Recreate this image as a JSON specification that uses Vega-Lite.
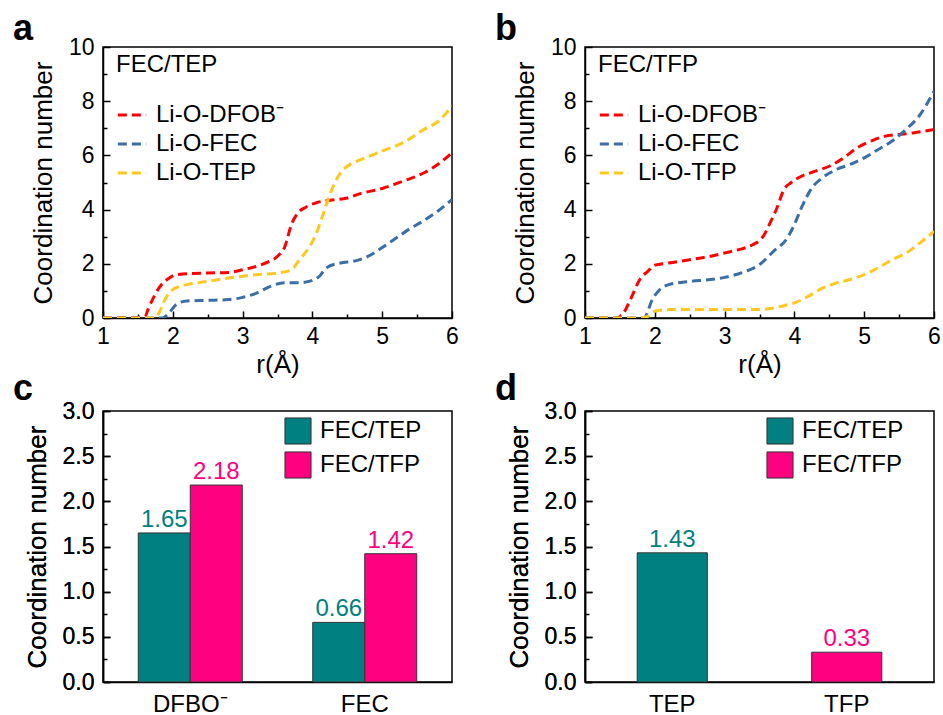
{
  "$schema": "https://vega.github.io/schema/vega-lite/v6.json",
  "background": "white",
  "padding": {"left": 12, "top": 10, "right": 8, "bottom": 4},
  "datasets": {
    "a": [
      {"r": 1.0, "cn": 0, "s": "Li-O-DFOB⁻"}, {"r": 1.5, "cn": 0.02, "s": "Li-O-DFOB⁻"}, {"r": 1.6, "cn": 0.05, "s": "Li-O-DFOB⁻"},
      {"r": 1.65, "cn": 0.35, "s": "Li-O-DFOB⁻"}, {"r": 1.8, "cn": 1.1, "s": "Li-O-DFOB⁻"}, {"r": 1.95, "cn": 1.48, "s": "Li-O-DFOB⁻"},
      {"r": 2.05, "cn": 1.6, "s": "Li-O-DFOB⁻"}, {"r": 2.5, "cn": 1.66, "s": "Li-O-DFOB⁻"}, {"r": 2.8, "cn": 1.68, "s": "Li-O-DFOB⁻"},
      {"r": 3.0, "cn": 1.78, "s": "Li-O-DFOB⁻"}, {"r": 3.3, "cn": 2.0, "s": "Li-O-DFOB⁻"}, {"r": 3.5, "cn": 2.28, "s": "Li-O-DFOB⁻"},
      {"r": 3.6, "cn": 2.6, "s": "Li-O-DFOB⁻"}, {"r": 3.7, "cn": 3.45, "s": "Li-O-DFOB⁻"}, {"r": 3.8, "cn": 3.9, "s": "Li-O-DFOB⁻"},
      {"r": 3.9, "cn": 4.08, "s": "Li-O-DFOB⁻"}, {"r": 4.05, "cn": 4.25, "s": "Li-O-DFOB⁻"}, {"r": 4.2, "cn": 4.33, "s": "Li-O-DFOB⁻"},
      {"r": 4.5, "cn": 4.43, "s": "Li-O-DFOB⁻"}, {"r": 4.7, "cn": 4.6, "s": "Li-O-DFOB⁻"}, {"r": 5.0, "cn": 4.78, "s": "Li-O-DFOB⁻"},
      {"r": 5.3, "cn": 5.05, "s": "Li-O-DFOB⁻"}, {"r": 5.6, "cn": 5.36, "s": "Li-O-DFOB⁻"}, {"r": 5.8, "cn": 5.67, "s": "Li-O-DFOB⁻"},
      {"r": 6.0, "cn": 6.1, "s": "Li-O-DFOB⁻"},
      {"r": 1.0, "cn": 0, "s": "Li-O-FEC"}, {"r": 1.85, "cn": 0, "s": "Li-O-FEC"}, {"r": 1.95, "cn": 0.2, "s": "Li-O-FEC"},
      {"r": 2.05, "cn": 0.5, "s": "Li-O-FEC"}, {"r": 2.2, "cn": 0.63, "s": "Li-O-FEC"}, {"r": 2.5, "cn": 0.65, "s": "Li-O-FEC"},
      {"r": 2.8, "cn": 0.68, "s": "Li-O-FEC"}, {"r": 3.0, "cn": 0.76, "s": "Li-O-FEC"}, {"r": 3.2, "cn": 0.92, "s": "Li-O-FEC"},
      {"r": 3.4, "cn": 1.17, "s": "Li-O-FEC"}, {"r": 3.6, "cn": 1.3, "s": "Li-O-FEC"}, {"r": 3.8, "cn": 1.3, "s": "Li-O-FEC"},
      {"r": 3.95, "cn": 1.35, "s": "Li-O-FEC"}, {"r": 4.1, "cn": 1.54, "s": "Li-O-FEC"}, {"r": 4.2, "cn": 1.85, "s": "Li-O-FEC"},
      {"r": 4.4, "cn": 2.03, "s": "Li-O-FEC"}, {"r": 4.6, "cn": 2.1, "s": "Li-O-FEC"}, {"r": 4.8, "cn": 2.28, "s": "Li-O-FEC"},
      {"r": 5.0, "cn": 2.6, "s": "Li-O-FEC"}, {"r": 5.2, "cn": 2.95, "s": "Li-O-FEC"}, {"r": 5.4, "cn": 3.3, "s": "Li-O-FEC"},
      {"r": 5.6, "cn": 3.6, "s": "Li-O-FEC"}, {"r": 5.8, "cn": 3.95, "s": "Li-O-FEC"}, {"r": 6.0, "cn": 4.37, "s": "Li-O-FEC"},
      {"r": 1.0, "cn": 0, "s": "Li-O-TEP"}, {"r": 1.75, "cn": 0, "s": "Li-O-TEP"}, {"r": 1.8, "cn": 0.18, "s": "Li-O-TEP"},
      {"r": 1.9, "cn": 0.74, "s": "Li-O-TEP"}, {"r": 2.0, "cn": 1.05, "s": "Li-O-TEP"}, {"r": 2.2, "cn": 1.23, "s": "Li-O-TEP"},
      {"r": 2.5, "cn": 1.35, "s": "Li-O-TEP"}, {"r": 2.8, "cn": 1.48, "s": "Li-O-TEP"}, {"r": 3.0, "cn": 1.54, "s": "Li-O-TEP"},
      {"r": 3.2, "cn": 1.6, "s": "Li-O-TEP"}, {"r": 3.5, "cn": 1.66, "s": "Li-O-TEP"}, {"r": 3.7, "cn": 1.78, "s": "Li-O-TEP"},
      {"r": 3.8, "cn": 2.1, "s": "Li-O-TEP"}, {"r": 3.95, "cn": 2.6, "s": "Li-O-TEP"}, {"r": 4.05, "cn": 3.08, "s": "Li-O-TEP"},
      {"r": 4.15, "cn": 3.8, "s": "Li-O-TEP"}, {"r": 4.25, "cn": 4.55, "s": "Li-O-TEP"}, {"r": 4.4, "cn": 5.35, "s": "Li-O-TEP"},
      {"r": 4.5, "cn": 5.6, "s": "Li-O-TEP"}, {"r": 4.7, "cn": 5.85, "s": "Li-O-TEP"}, {"r": 5.0, "cn": 6.16, "s": "Li-O-TEP"},
      {"r": 5.3, "cn": 6.47, "s": "Li-O-TEP"}, {"r": 5.6, "cn": 6.96, "s": "Li-O-TEP"}, {"r": 5.8, "cn": 7.25, "s": "Li-O-TEP"},
      {"r": 6.0, "cn": 7.82, "s": "Li-O-TEP"}
    ],
    "b": [
      {"r": 1.0, "cn": 0, "s": "Li-O-DFOB⁻"}, {"r": 1.45, "cn": 0, "s": "Li-O-DFOB⁻"}, {"r": 1.55, "cn": 0.18, "s": "Li-O-DFOB⁻"},
      {"r": 1.65, "cn": 0.68, "s": "Li-O-DFOB⁻"}, {"r": 1.8, "cn": 1.48, "s": "Li-O-DFOB⁻"}, {"r": 1.9, "cn": 1.72, "s": "Li-O-DFOB⁻"},
      {"r": 2.0, "cn": 1.95, "s": "Li-O-DFOB⁻"}, {"r": 2.2, "cn": 2.03, "s": "Li-O-DFOB⁻"}, {"r": 2.5, "cn": 2.15, "s": "Li-O-DFOB⁻"},
      {"r": 2.8, "cn": 2.28, "s": "Li-O-DFOB⁻"}, {"r": 3.0, "cn": 2.4, "s": "Li-O-DFOB⁻"}, {"r": 3.2, "cn": 2.52, "s": "Li-O-DFOB⁻"},
      {"r": 3.4, "cn": 2.7, "s": "Li-O-DFOB⁻"}, {"r": 3.55, "cn": 3.0, "s": "Li-O-DFOB⁻"}, {"r": 3.65, "cn": 3.5, "s": "Li-O-DFOB⁻"},
      {"r": 3.75, "cn": 4.06, "s": "Li-O-DFOB⁻"}, {"r": 3.85, "cn": 4.74, "s": "Li-O-DFOB⁻"}, {"r": 3.95, "cn": 4.99, "s": "Li-O-DFOB⁻"},
      {"r": 4.1, "cn": 5.23, "s": "Li-O-DFOB⁻"}, {"r": 4.3, "cn": 5.42, "s": "Li-O-DFOB⁻"}, {"r": 4.5, "cn": 5.6, "s": "Li-O-DFOB⁻"},
      {"r": 4.7, "cn": 5.9, "s": "Li-O-DFOB⁻"}, {"r": 4.9, "cn": 6.28, "s": "Li-O-DFOB⁻"}, {"r": 5.1, "cn": 6.53, "s": "Li-O-DFOB⁻"},
      {"r": 5.3, "cn": 6.71, "s": "Li-O-DFOB⁻"}, {"r": 5.5, "cn": 6.77, "s": "Li-O-DFOB⁻"}, {"r": 5.7, "cn": 6.83, "s": "Li-O-DFOB⁻"},
      {"r": 6.0, "cn": 6.96, "s": "Li-O-DFOB⁻"},
      {"r": 1.0, "cn": 0, "s": "Li-O-FEC"}, {"r": 1.85, "cn": 0, "s": "Li-O-FEC"}, {"r": 1.9, "cn": 0.25, "s": "Li-O-FEC"},
      {"r": 1.95, "cn": 0.6, "s": "Li-O-FEC"}, {"r": 2.05, "cn": 0.99, "s": "Li-O-FEC"}, {"r": 2.2, "cn": 1.23, "s": "Li-O-FEC"},
      {"r": 2.5, "cn": 1.35, "s": "Li-O-FEC"}, {"r": 2.8, "cn": 1.42, "s": "Li-O-FEC"}, {"r": 3.0, "cn": 1.5, "s": "Li-O-FEC"},
      {"r": 3.3, "cn": 1.72, "s": "Li-O-FEC"}, {"r": 3.5, "cn": 1.97, "s": "Li-O-FEC"}, {"r": 3.7, "cn": 2.46, "s": "Li-O-FEC"},
      {"r": 3.9, "cn": 2.96, "s": "Li-O-FEC"}, {"r": 4.0, "cn": 3.45, "s": "Li-O-FEC"}, {"r": 4.1, "cn": 4.06, "s": "Li-O-FEC"},
      {"r": 4.25, "cn": 4.8, "s": "Li-O-FEC"}, {"r": 4.4, "cn": 5.17, "s": "Li-O-FEC"}, {"r": 4.6, "cn": 5.48, "s": "Li-O-FEC"},
      {"r": 4.8, "cn": 5.67, "s": "Li-O-FEC"}, {"r": 5.0, "cn": 5.91, "s": "Li-O-FEC"}, {"r": 5.2, "cn": 6.22, "s": "Li-O-FEC"},
      {"r": 5.4, "cn": 6.53, "s": "Li-O-FEC"}, {"r": 5.6, "cn": 6.96, "s": "Li-O-FEC"}, {"r": 5.8, "cn": 7.5, "s": "Li-O-FEC"},
      {"r": 6.0, "cn": 8.37, "s": "Li-O-FEC"},
      {"r": 1.0, "cn": 0, "s": "Li-O-TFP"}, {"r": 1.8, "cn": 0, "s": "Li-O-TFP"}, {"r": 1.9, "cn": 0.06, "s": "Li-O-TFP"},
      {"r": 2.0, "cn": 0.25, "s": "Li-O-TFP"}, {"r": 2.2, "cn": 0.31, "s": "Li-O-TFP"}, {"r": 2.5, "cn": 0.31, "s": "Li-O-TFP"},
      {"r": 3.0, "cn": 0.31, "s": "Li-O-TFP"}, {"r": 3.5, "cn": 0.31, "s": "Li-O-TFP"}, {"r": 3.7, "cn": 0.37, "s": "Li-O-TFP"},
      {"r": 3.9, "cn": 0.49, "s": "Li-O-TFP"}, {"r": 4.0, "cn": 0.56, "s": "Li-O-TFP"}, {"r": 4.2, "cn": 0.8, "s": "Li-O-TFP"},
      {"r": 4.4, "cn": 1.1, "s": "Li-O-TFP"}, {"r": 4.6, "cn": 1.29, "s": "Li-O-TFP"}, {"r": 4.8, "cn": 1.42, "s": "Li-O-TFP"},
      {"r": 5.0, "cn": 1.6, "s": "Li-O-TFP"}, {"r": 5.2, "cn": 1.85, "s": "Li-O-TFP"}, {"r": 5.4, "cn": 2.15, "s": "Li-O-TFP"},
      {"r": 5.6, "cn": 2.4, "s": "Li-O-TFP"}, {"r": 5.8, "cn": 2.77, "s": "Li-O-TFP"}, {"r": 6.0, "cn": 3.2, "s": "Li-O-TFP"}
    ],
    "c": [
      {"cat": "DFBO⁻", "sys": "FEC/TEP", "v": 1.65}, {"cat": "DFBO⁻", "sys": "FEC/TFP", "v": 2.18},
      {"cat": "FEC", "sys": "FEC/TEP", "v": 0.66}, {"cat": "FEC", "sys": "FEC/TFP", "v": 1.42}
    ],
    "d": [
      {"cat": "TEP", "sys": "FEC/TEP", "v": 1.43}, {"cat": "TFP", "sys": "FEC/TFP", "v": 0.33}
    ]
  },
  "config": {
    "font": "Liberation Sans",
    "view": {"stroke": "black", "strokeWidth": 1.5},
    "axis": {
      "domainColor": "black", "domainWidth": 1.5, "tickColor": "black", "tickWidth": 1.5,
      "labelColor": "black", "labelFontSize": 23, "labelFont": "Liberation Sans",
      "titleColor": "black", "titleFontSize": 26, "titleFont": "Liberation Sans", "titleFontWeight": "normal",
      "grid": false
    },
    "legend": {"labelFont": "Liberation Sans", "titleFont": "Liberation Sans", "labelColor": "black", "titleColor": "black"},
    "title": {"font": "Liberation Sans", "fontSize": 36, "fontWeight": "bold", "color": "black", "anchor": "start", "frame": "group", "dx": -90}
  },
  "concat": [
    {
      "width": 349, "height": 271,
      "title": {"text": "a", "offset": -12},
      "data": {"name": "a"},
      "layer": [
        {
          "mark": {"type": "line", "strokeWidth": 3, "strokeDash": [9, 5], "interpolate": "monotone", "clip": true},
          "encoding": {
            "x": {"field": "r", "type": "quantitative", "scale": {"domain": [1, 6], "nice": false},
              "axis": {"orient": "bottom", "values": [1, 2, 3, 4, 5, 6], "title": "r(Å)", "tickSize": -7, "labelPadding": 14, "titlePadding": 3, "labelFlush": false}},
            "y": {"field": "cn", "type": "quantitative", "scale": {"domain": [0, 10], "nice": false},
              "axis": {"orient": "left", "values": [0, 2, 4, 6, 8, 10], "title": "Coordination number", "tickSize": -7, "labelPadding": 16, "titlePadding": 12, "labelFlush": false}},
            "color": {"field": "s", "type": "nominal",
              "scale": {"domain": ["Li-O-DFOB⁻", "Li-O-FEC", "Li-O-TEP"], "range": ["#FF0000", "#3A6EA8", "#FFC81E"]},
              "legend": {"title": "FEC/TEP", "orient": "none", "legendX": 13, "legendY": 6, "titleFontSize": 24, "titleFontWeight": "normal", "titlePadding": 22,
                "labelFontSize": 24, "symbolType": "stroke", "symbolDash": [9, 5], "symbolStrokeWidth": 3, "symbolSize": 800,
                "rowPadding": 1, "labelOffset": 8, "padding": 0}}
          }
        },
        {
          "mark": {"type": "line", "opacity": 0},
          "encoding": {
            "x": {"field": "r", "type": "quantitative", "axis": {"orient": "bottom", "values": [1.5, 2.5, 3.5, 4.5, 5.5], "labels": false, "title": null, "tickSize": -4, "domain": false}},
            "y": {"field": "cn", "type": "quantitative", "axis": {"orient": "left", "values": [1, 3, 5, 7, 9], "labels": false, "title": null, "tickSize": -4, "domain": false}}
          }
        }
      ],
      "resolve": {"axis": {"x": "independent", "y": "independent"}}
    },
    {
      "width": 349, "height": 271,
      "title": {"text": "b", "offset": -12},
      "data": {"name": "b"},
      "layer": [
        {
          "mark": {"type": "line", "strokeWidth": 3, "strokeDash": [9, 5], "interpolate": "monotone", "clip": true},
          "encoding": {
            "x": {"field": "r", "type": "quantitative", "scale": {"domain": [1, 6], "nice": false},
              "axis": {"orient": "bottom", "values": [1, 2, 3, 4, 5, 6], "title": "r(Å)", "tickSize": -7, "labelPadding": 14, "titlePadding": 3, "labelFlush": false}},
            "y": {"field": "cn", "type": "quantitative", "scale": {"domain": [0, 10], "nice": false},
              "axis": {"orient": "left", "values": [0, 2, 4, 6, 8, 10], "title": "Coordination number", "tickSize": -7, "labelPadding": 16, "titlePadding": 12, "labelFlush": false}},
            "color": {"field": "s", "type": "nominal",
              "scale": {"domain": ["Li-O-DFOB⁻", "Li-O-FEC", "Li-O-TFP"], "range": ["#FF0000", "#3A6EA8", "#FFC81E"]},
              "legend": {"title": "FEC/TFP", "orient": "none", "legendX": 13, "legendY": 6, "titleFontSize": 24, "titleFontWeight": "normal", "titlePadding": 22,
                "labelFontSize": 24, "symbolType": "stroke", "symbolDash": [9, 5], "symbolStrokeWidth": 3, "symbolSize": 800,
                "rowPadding": 1, "labelOffset": 8, "padding": 0}}
          }
        },
        {
          "mark": {"type": "line", "opacity": 0},
          "encoding": {
            "x": {"field": "r", "type": "quantitative", "axis": {"orient": "bottom", "values": [1.5, 2.5, 3.5, 4.5, 5.5], "labels": false, "title": null, "tickSize": -4, "domain": false}},
            "y": {"field": "cn", "type": "quantitative", "axis": {"orient": "left", "values": [1, 3, 5, 7, 9], "labels": false, "title": null, "tickSize": -4, "domain": false}}
          }
        }
      ],
      "resolve": {"axis": {"x": "independent", "y": "independent"}}
    },
    {
      "width": 349, "height": 271,
      "title": {"text": "c", "offset": -8},
      "data": {"name": "c"},
      "encoding": {
        "x": {"field": "cat", "type": "nominal", "sort": null,
          "scale": {"paddingInner": 0.404, "paddingOuter": 0.202},
          "axis": {"title": null, "labelAngle": 0, "labelFontSize": 24, "ticks": false, "labelPadding": 10}},
        "xOffset": {"field": "sys", "type": "nominal", "scale": {"paddingInner": 0, "paddingOuter": 0}}
      },
      "layer": [
        {
          "mark": {"type": "bar", "stroke": "#333333", "strokeWidth": 1},
          "encoding": {
            "y": {"field": "v", "type": "quantitative", "scale": {"domain": [0, 3], "nice": false},
              "axis": {"orient": "left", "values": [0, 0.5, 1, 1.5, 2, 2.5, 3], "format": ".1f", "title": "Coordination number", "tickSize": -7, "labelPadding": 16, "titlePadding": 12, "labelFlush": false}},
            "color": {"field": "sys", "type": "nominal",
              "scale": {"domain": ["FEC/TEP", "FEC/TFP"], "range": ["#008080", "#FF0080"]},
              "legend": {"title": null, "orient": "none", "legendX": 181, "legendY": 6, "labelFontSize": 24, "symbolType": "square", "symbolSize": 680,
                "symbolStrokeColor": "#333333", "symbolStrokeWidth": 1, "rowPadding": 2, "labelOffset": 8, "padding": 0, "symbolOpacity": 1}}
          }
        },
        {
          "mark": {"type": "text", "baseline": "alphabetic", "dy": -6, "fontSize": 24},
          "encoding": {
            "y": {"field": "v", "type": "quantitative", "axis": {"orient": "left", "values": [0, 0.5, 1, 1.5, 2, 2.5, 3], "format": ".1f", "title": "Coordination number", "tickSize": -7, "labelPadding": 16, "titlePadding": 12, "labelFlush": false}},
            "text": {"field": "v", "type": "quantitative", "format": ".2f"},
            "color": {"field": "sys", "type": "nominal", "scale": {"domain": ["FEC/TEP", "FEC/TFP"], "range": ["#008080", "#FF0080"]}, "legend": null}
          }
        },
        {
          "mark": {"type": "bar", "opacity": 0},
          "encoding": {
            "y": {"field": "v", "type": "quantitative", "axis": {"orient": "left", "values": [0.25, 0.75, 1.25, 1.75, 2.25, 2.75], "labels": false, "title": null, "tickSize": -4, "domain": false}}
          }
        }
      ],
      "resolve": {"axis": {"y": "independent"}}
    },
    {
      "width": 349, "height": 271,
      "title": {"text": "d", "offset": -8},
      "data": {"name": "d"},
      "encoding": {
        "x": {"field": "cat", "type": "nominal", "sort": null,
          "scale": {"paddingInner": 0.598, "paddingOuter": 0.299},
          "axis": {"title": null, "labelAngle": 0, "labelFontSize": 24, "ticks": false, "labelPadding": 10}}
      },
      "layer": [
        {
          "mark": {"type": "bar", "stroke": "#333333", "strokeWidth": 1},
          "encoding": {
            "y": {"field": "v", "type": "quantitative", "scale": {"domain": [0, 3], "nice": false},
              "axis": {"orient": "left", "values": [0, 0.5, 1, 1.5, 2, 2.5, 3], "format": ".1f", "title": "Coordination number", "tickSize": -7, "labelPadding": 16, "titlePadding": 12, "labelFlush": false}},
            "color": {"field": "sys", "type": "nominal",
              "scale": {"domain": ["FEC/TEP", "FEC/TFP"], "range": ["#008080", "#FF0080"]},
              "legend": {"title": null, "orient": "none", "legendX": 181, "legendY": 6, "labelFontSize": 24, "symbolType": "square", "symbolSize": 680,
                "symbolStrokeColor": "#333333", "symbolStrokeWidth": 1, "rowPadding": 2, "labelOffset": 8, "padding": 0, "symbolOpacity": 1}}
          }
        },
        {
          "mark": {"type": "text", "baseline": "alphabetic", "dy": -6, "fontSize": 24},
          "encoding": {
            "y": {"field": "v", "type": "quantitative", "axis": {"orient": "left", "values": [0, 0.5, 1, 1.5, 2, 2.5, 3], "format": ".1f", "title": "Coordination number", "tickSize": -7, "labelPadding": 16, "titlePadding": 12, "labelFlush": false}},
            "text": {"field": "v", "type": "quantitative", "format": ".2f"},
            "color": {"field": "sys", "type": "nominal", "scale": {"domain": ["FEC/TEP", "FEC/TFP"], "range": ["#008080", "#FF0080"]}, "legend": null}
          }
        },
        {
          "mark": {"type": "bar", "opacity": 0},
          "encoding": {
            "y": {"field": "v", "type": "quantitative", "axis": {"orient": "left", "values": [0.25, 0.75, 1.25, 1.75, 2.25, 2.75], "labels": false, "title": null, "tickSize": -4, "domain": false}}
          }
        }
      ],
      "resolve": {"axis": {"y": "independent"}}
    }
  ],
  "columns": 2,
  "spacing": {"row": 93, "column": 133},
  "bounds": "flush",
  "resolve": {"scale": {"color": "independent", "x": "independent", "y": "independent"}}
}
